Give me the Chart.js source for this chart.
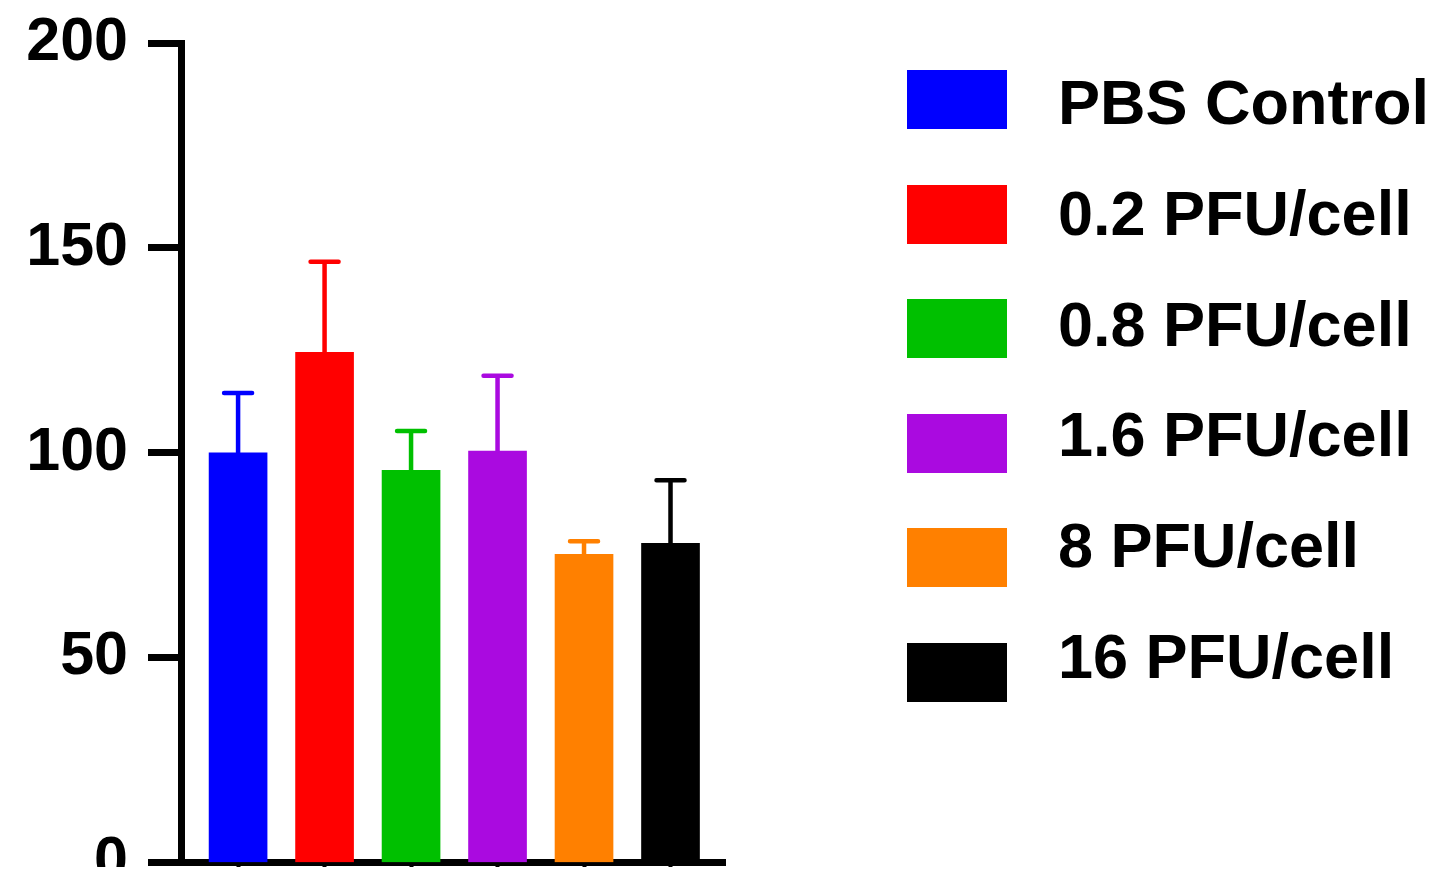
<!DOCTYPE html>
<html>
<head>
<meta charset="utf-8">
<script src="https://cdn.jsdelivr.net/npm/chart.js@4"></script>
<style>
  html, body { margin: 0; padding: 0; background: #fff; }
  body { width: 1439px; height: 884px; position: relative; overflow: hidden; font-family: "Liberation Sans", Arial, sans-serif; }
  #clip { position: absolute; left: 0; top: 0; width: 760px; height: 867px; overflow: hidden; }
  #wrap { position: absolute; left: 0; top: 0; width: 760px; height: 960px; }
  .lbox { position: absolute; left: 907px; width: 100px; height: 59px; }
  .ltext { position: absolute; left: 1058px; font-weight: bold; font-size: 63px; line-height: 63px; white-space: nowrap; color: #000; }
</style>
</head>
<body>
<div id="clip"><div id="wrap"><canvas id="barChart"></canvas></div></div>
<div id="legend"></div>
<script>
// Data
const categories = ['PBS Control', '0.2 PFU/cell', '0.8 PFU/cell', '1.6 PFU/cell', '8 PFU/cell', '16 PFU/cell'];
const values = [100, 124.5, 95.7, 100.4, 75.2, 77.9];
const errors = [14.6, 22.1, 9.6, 18.4, 3.2, 15.4];
const colors = ['#0000ff', '#ff0000', '#00c000', '#aa0ae0', '#ff8000', '#000000'];
const yTicks = [0, 50, 100, 150, 200];

// Legend (HTML, built from the arrays)
const legend = document.getElementById('legend');
categories.forEach((name, i) => {
    const box = document.createElement('div');
    box.className = 'lbox';
    box.style.top = (70 + i * 114.6) + 'px';
    box.style.background = colors[i];
    legend.appendChild(box);

    const txt = document.createElement('div');
    txt.className = 'ltext';
    txt.style.top = (71 + i * 110.8) + 'px';
    txt.textContent = name;
    legend.appendChild(txt);
});

// Upper error bars
const errorBars = {
    id: 'errorBars',
    afterDatasetsDraw(chart) {
        const ctx = chart.ctx;
        const meta = chart.getDatasetMeta(0);
        const y = chart.scales.y;
        ctx.save();
        ctx.lineWidth = 4.5;
        ctx.lineCap = 'round';
        meta.data.forEach((bar, i) => {
            const top = y.getPixelForValue(values[i] + errors[i]);
            ctx.strokeStyle = colors[i];
            ctx.beginPath();
            ctx.moveTo(bar.x, bar.y);
            ctx.lineTo(bar.x, top);
            ctx.moveTo(bar.x - 14, top);
            ctx.lineTo(bar.x + 14, top);
            ctx.stroke();
        });
        ctx.restore();
    }
};

const ctx = document.getElementById('barChart').getContext('2d');

new Chart(ctx, {
    type: 'bar',
    data: {
        datasets: [{
            label: 'Values',
            data: values.map((v, i) => ({ x: i, y: v })),
            backgroundColor: colors,
            borderWidth: 0,
            barThickness: 58
        }]
    },
    options: {
        responsive: true,
        maintainAspectRatio: false,
        animation: false,
        layout: {
            padding: { top: 43, right: 35, bottom: 0, left: 0 }
        },
        plugins: {
            legend: { display: false },
            tooltip: { enabled: false }
        },
        scales: {
            x: {
                type: 'linear',
                min: -0.66,
                max: 5.63,
                offset: false,
                afterFit: function(scale) { scale.height = 97.5; },
                grid: {
                    offset: false,
                    drawOnChartArea: false,
                    drawTicks: true,
                    tickLength: 8,
                    tickWidth: 4,
                    color: '#000'
                },
                border: { display: true, color: '#000', width: 7 },
                ticks: {
                    display: false,
                    stepSize: 1,
                    includeBounds: false
                }
            },
            y: {
                min: 0,
                max: 200,
                afterFit: function(scale) {
                    scale.width = 181;
                    scale.paddingTop = 0;
                    scale.paddingBottom = 0;
                },
                afterBuildTicks: function(scale) {
                    scale.ticks = yTicks.map(v => ({ value: v }));
                },
                grid: {
                    drawOnChartArea: false,
                    drawTicks: true,
                    tickLength: 33,
                    tickWidth: 7,
                    color: '#000'
                },
                border: { display: true, color: '#000', width: 7 },
                ticks: {
                    color: '#000',
                    padding: 20,
                    font: { family: '"Liberation Sans", Arial, sans-serif', size: 61, weight: 'bold' }
                }
            }
        }
    },
    plugins: [errorBars]
});
</script>
</body>
</html>
